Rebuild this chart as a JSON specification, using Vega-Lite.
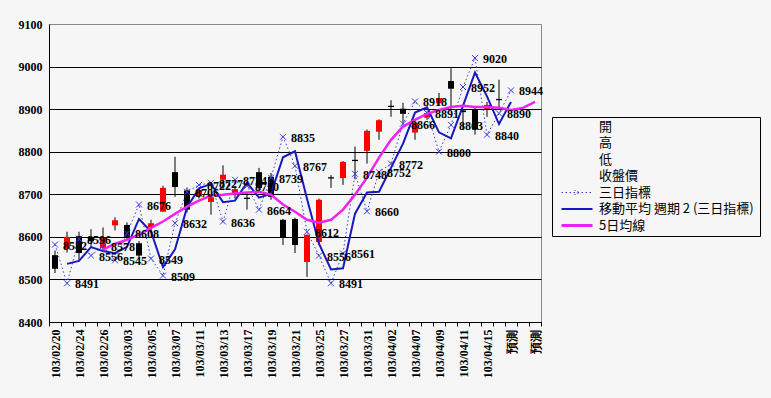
{
  "$schema": "https://vega.github.io/schema/vega-lite/v6.json",
  "autosize": {"type": "none"},
  "padding": {"left": 49, "top": 24, "right": 230, "bottom": 76},
  "width": 492,
  "height": 298,
  "background": "#f6f6f6",
  "config": {
    "view": {"stroke": "#8a8a8a", "fill": "#f6f6f6"},
    "axis": {"labelFont": "Liberation Serif", "labelFontWeight": "bold", "labelFontSize": 12, "labelColor": "black", "domainColor": "black", "tickColor": "black", "title": null, "labelOverlap": false}
  },
  "data": {
    "values": [
      {"d": "103/02/20", "o": 8557, "h": 8568, "l": 8515, "c": 8525, "t": 8582, "ma2": null, "ma5": null},
      {"d": "103/02/21", "o": 8572, "h": 8612, "l": 8563, "c": 8600, "t": 8491, "ma2": 8536.5, "ma5": null},
      {"d": "103/02/24", "o": 8602, "h": 8612, "l": 8546, "c": 8562, "t": 8596, "ma2": 8543.5, "ma5": null},
      {"d": "103/02/25", "o": 8600, "h": 8618, "l": 8576, "c": 8590, "t": 8556, "ma2": 8576, "ma5": null},
      {"d": "103/02/26", "o": 8574, "h": 8622, "l": 8570, "c": 8598, "t": 8578, "ma2": 8567, "ma5": 8570},
      {"d": "103/02/27", "o": 8627, "h": 8646, "l": 8615, "c": 8639, "t": 8545, "ma2": 8561.5, "ma5": 8584},
      {"d": "103/03/03", "o": 8628, "h": 8634, "l": 8595, "c": 8600, "t": 8608, "ma2": 8576.5, "ma5": 8593},
      {"d": "103/03/04", "o": 8585, "h": 8590, "l": 8548, "c": 8556, "t": 8676, "ma2": 8642, "ma5": 8605},
      {"d": "103/03/05", "o": 8622, "h": 8640, "l": 8612, "c": 8632, "t": 8549, "ma2": 8612.5, "ma5": 8621},
      {"d": "103/03/06", "o": 8659, "h": 8720, "l": 8659, "c": 8715, "t": 8509, "ma2": 8529, "ma5": 8636},
      {"d": "103/03/07", "o": 8752, "h": 8788, "l": 8694, "c": 8717, "t": 8632, "ma2": 8570.5, "ma5": 8654},
      {"d": "103/03/10", "o": 8709, "h": 8716, "l": 8657, "c": 8664, "t": 8706, "ma2": 8669, "ma5": 8671},
      {"d": "103/03/11", "o": 8695, "h": 8715, "l": 8690, "c": 8710, "t": 8722, "ma2": 8714, "ma5": 8685},
      {"d": "103/03/12", "o": 8682, "h": 8700, "l": 8652, "c": 8693, "t": 8727, "ma2": 8724.5, "ma5": 8697},
      {"d": "103/03/13", "o": 8734, "h": 8768, "l": 8728, "c": 8746, "t": 8636, "ma2": 8681.5, "ma5": 8699},
      {"d": "103/03/14", "o": 8700, "h": 8720, "l": 8690, "c": 8712, "t": 8734, "ma2": 8685, "ma5": 8702},
      {"d": "103/03/17", "o": 8692, "h": 8704, "l": 8664, "c": 8689, "t": 8720, "ma2": 8727, "ma5": 8704},
      {"d": "103/03/18", "o": 8752, "h": 8762, "l": 8710, "c": 8715, "t": 8664, "ma2": 8692, "ma5": 8706},
      {"d": "103/03/19", "o": 8741, "h": 8750, "l": 8687, "c": 8694, "t": 8739, "ma2": 8701.5, "ma5": 8699},
      {"d": "103/03/20", "o": 8640, "h": 8642, "l": 8581, "c": 8598, "t": 8835, "ma2": 8787, "ma5": 8676},
      {"d": "103/03/21", "o": 8642, "h": 8645, "l": 8562, "c": 8581, "t": 8767, "ma2": 8801, "ma5": 8659},
      {"d": "103/03/24", "o": 8541, "h": 8605, "l": 8506, "c": 8605, "t": 8612, "ma2": 8689.5, "ma5": 8640},
      {"d": "103/03/25", "o": 8588, "h": 8690, "l": 8585, "c": 8687, "t": 8556, "ma2": 8584, "ma5": 8633},
      {"d": "103/03/26", "o": 8740, "h": 8745, "l": 8715, "c": 8737, "t": 8491, "ma2": 8523.5, "ma5": 8640},
      {"d": "103/03/27", "o": 8738, "h": 8778, "l": 8722, "c": 8776, "t": 8561, "ma2": 8526, "ma5": 8664},
      {"d": "103/03/28", "o": 8781, "h": 8812, "l": 8735, "c": 8778, "t": 8748, "ma2": 8654.5, "ma5": 8699},
      {"d": "103/03/31", "o": 8802, "h": 8852, "l": 8772, "c": 8849, "t": 8660, "ma2": 8704, "ma5": 8739},
      {"d": "103/04/01", "o": 8847, "h": 8876, "l": 8828, "c": 8874, "t": 8752, "ma2": 8706, "ma5": 8786},
      {"d": "103/04/02", "o": 8908, "h": 8921, "l": 8882, "c": 8905, "t": 8772, "ma2": 8762, "ma5": 8828},
      {"d": "103/04/03", "o": 8901, "h": 8915, "l": 8868, "c": 8889, "t": 8866, "ma2": 8819, "ma5": 8859},
      {"d": "103/04/07", "o": 8845, "h": 8870, "l": 8828, "c": 8868, "t": 8918, "ma2": 8892, "ma5": 8875},
      {"d": "103/04/08", "o": 8880, "h": 8895, "l": 8875, "c": 8891, "t": 8891, "ma2": 8904.5, "ma5": 8889},
      {"d": "103/04/09", "o": 8914, "h": 8938, "l": 8908, "c": 8926, "t": 8800, "ma2": 8845.5, "ma5": 8898},
      {"d": "103/04/10", "o": 8966, "h": 8996, "l": 8899, "c": 8948, "t": 8863, "ma2": 8831.5, "ma5": 8905},
      {"d": "103/04/11", "o": 8897, "h": 8900, "l": 8852, "c": 8893, "t": 8952, "ma2": 8907.5, "ma5": 8908},
      {"d": "103/04/14", "o": 8898, "h": 8905, "l": 8840, "c": 8852, "t": 9020, "ma2": 8986, "ma5": 8905},
      {"d": "103/04/15", "o": 8900, "h": 8917, "l": 8882, "c": 8910, "t": 8840, "ma2": 8930, "ma5": 8905},
      {"d": "103/04/16", "o": 8924, "h": 8969, "l": 8899, "c": 8921, "t": 8890, "ma2": 8865, "ma5": 8903},
      {"d": "預測1", "o": null, "h": null, "l": null, "c": null, "t": 8944, "ma2": 8917, "ma5": 8898},
      {"d": "預測2", "o": null, "h": null, "l": null, "c": null, "t": null, "ma2": null, "ma5": 8903},
      {"d": "預測3", "o": null, "h": null, "l": null, "c": null, "t": null, "ma2": null, "ma5": 8917}
    ]
  },
  "encoding": {
    "x": {
      "field": "d", "type": "ordinal", "sort": null,
      "scale": {"paddingInner": 0, "paddingOuter": 0},
      "axis": {
        "labelAngle": -90, "labelAlign": "right", "labelBaseline": "middle",
        "tickBand": "extent", "tickSize": 4, "labelPadding": 3, "grid": false,
        "labelExpr": "indexof(['103/02/20','103/02/24','103/02/26','103/03/03','103/03/05','103/03/07','103/03/11','103/03/13','103/03/17','103/03/19','103/03/21','103/03/25','103/03/27','103/03/31','103/04/02','103/04/07','103/04/09','103/04/11','103/04/15'], datum.value) >= 0 ? datum.value : ((datum.value === '預測1' || datum.value === '預測3') ? '預測' : '')"
      }
    }
  },
  "layer": [
    {
      "mark": {"type": "rule", "color": "black", "strokeWidth": 1},
      "encoding": {
        "y": {"field": "l", "type": "quantitative", "scale": {"domain": [8400, 9100], "nice": false, "zero": false},
          "axis": {"values": [8400, 8500, 8600, 8700, 8800, 8900, 9000, 9100], "format": "d", "ticks": false, "labelPadding": 7, "grid": true,
            "gridColor": {"condition": {"test": "datum.value === 9100", "value": "#8a8a8a"}, "value": "black"}, "gridOpacity": 1}},
        "y2": {"field": "h"}
      }
    },
    {
      "mark": {"type": "bar", "size": 6},
      "encoding": {
        "y": {"field": "o", "type": "quantitative"},
        "y2": {"field": "c"},
        "color": {"condition": {"test": "datum.c > datum.o", "value": "#ff0000"}, "value": "black"}
      }
    },
    {
      "mark": {"type": "line", "strokeDash": [1.5, 2.5], "strokeWidth": 1},
      "encoding": {
        "y": {"field": "t", "type": "quantitative"},
        "color": {
          "datum": "三日指標",
          "scale": {
            "domain": ["開", "高", "低", "收盤價", "三日指標", "移動平均  週期 2 (三日指標)", "5日均線"],
            "range": ["transparent", "transparent", "transparent", "transparent", "#3c3cdc", "#1818c0", "#f022f0"]
          },
          "legend": {
            "orient": "none", "legendX": 503, "legendY": 93, "title": null,
            "symbolType": "M0,0H31", "symbolSize": 4, "symbolStrokeWidth": 2, "symbolFillColor": "transparent",
            "labelOffset": 31, "labelFont": "Noto Sans CJK TC", "labelFontSize": 13, "labelColor": "black",
            "strokeColor": "black", "padding": 3, "rowPadding": 2.5, "labelLimit": 300,
            "encode": {
              "symbols": {
                "update": {
                  "shape": {"signal": "datum.value === '三日指標' ? 'M0,0H31M13,-2.5L18,2.5M13,2.5L18,-2.5' : 'M0,0H31'"},
                  "strokeDash": {"signal": "datum.value === '三日指標' ? [1.5, 2.5] : [1, 0]"},
                  "strokeWidth": {"signal": "datum.value === '5日均線' ? 3 : (datum.value === '三日指標' ? 1 : 2)"}
                }
              }
            }
          }
        }
      }
    },
    {
      "mark": {"type": "point", "shape": "M-1,-1L1,1M-1,1L1,-1", "size": 36, "filled": false, "strokeWidth": 1, "opacity": 1},
      "encoding": {
        "y": {"field": "t", "type": "quantitative"},
        "color": {"datum": "三日指標"}
      }
    },
    {
      "mark": {"type": "line", "strokeWidth": 2},
      "encoding": {
        "y": {"field": "ma2", "type": "quantitative"},
        "color": {"datum": "移動平均  週期 2 (三日指標)"}
      }
    },
    {
      "mark": {"type": "line", "strokeWidth": 2.5},
      "encoding": {
        "y": {"field": "ma5", "type": "quantitative"},
        "color": {"datum": "5日均線"}
      }
    },
    {
      "mark": {"type": "text", "align": "left", "baseline": "middle", "dx": 8, "dy": 1, "font": "Liberation Serif", "fontWeight": "bold", "fontSize": 12, "color": "black"},
      "encoding": {
        "y": {"field": "t", "type": "quantitative"},
        "text": {"field": "t", "type": "quantitative", "format": "d"}
      }
    }
  ]
}
